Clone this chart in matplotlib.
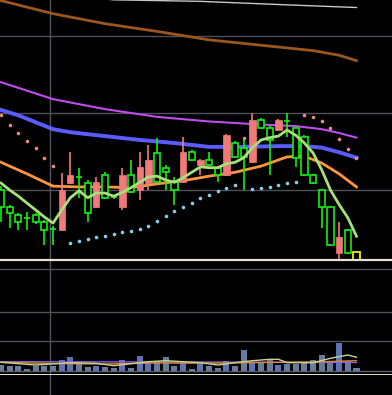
import matplotlib
matplotlib.use("Agg")
import matplotlib.pyplot as plt
from matplotlib.patches import Rectangle
from matplotlib.lines import Line2D

# ---------------- data ----------------
opens  = [10.00, 9.78, 9.68, 9.64, 9.68, 9.58, 9.51, 9.48, 10.09, 10.19,
          10.09, 9.78, 10.19, 9.92, 9.78, 10.19, 10.00, 10.09, 10.48, 10.29,
          10.10, 10.10, 10.49, 10.32, 10.39, 10.29, 10.19, 10.61, 10.55, 10.36,
          10.91, 10.81, 10.78, 10.90, 10.81, 10.69, 10.19, 10.00, 9.78, 9.18,
          9.48, 9.19]
highs  = [10.05, 9.81, 9.70, 9.71, 9.70, 9.61, 9.53, 10.22, 10.49, 10.29,
          10.13, 10.17, 10.23, 9.94, 10.29, 10.39, 10.49, 10.58, 10.68, 10.32,
          10.17, 10.69, 10.52, 10.40, 10.49, 10.31, 10.73, 10.64, 10.65, 11.00,
          10.94, 10.83, 10.92, 11.00, 10.82, 10.71, 10.21, 10.01, 9.79, 9.58,
          9.49, 9.19]
lows   = [9.58, 9.51, 9.48, 9.48, 9.56, 9.29, 9.29, 9.47, 10.08, 9.90,
          9.58, 9.77, 9.88, 9.88, 9.74, 9.96, 9.87, 10.00, 10.09, 10.00,
          9.81, 10.09, 10.38, 10.19, 10.31, 10.10, 10.18, 10.42, 10.00, 10.35,
          10.79, 10.19, 10.77, 10.69, 10.30, 10.18, 10.08, 9.51, 9.27, 9.09,
          9.17, 9.09]
closes = [9.78, 9.70, 9.58, 9.62, 9.58, 9.48, 9.48, 10.00, 10.19, 10.16,
          9.70, 10.10, 9.90, 9.90, 10.19, 9.97, 10.30, 10.39, 10.10, 10.23,
          10.00, 10.49, 10.39, 10.39, 10.32, 10.19, 10.71, 10.43, 10.43, 10.91,
          10.81, 10.65, 10.91, 10.88, 10.42, 10.19, 10.09, 9.78, 9.29, 9.39,
          9.18, 9.09]
volumes = [60, 53, 53, 20, 50, 50, 50, 110, 137, 93,
           43, 53, 43, 27, 110, 33, 150, 103, 93, 137,
           50, 93, 17, 70, 53, 33, 103, 50, 213, 83,
           83, 110, 60, 70, 67, 77, 110, 160, 103, 283,
           103, 27]

# moving averages (readings at candle indices)
ma_white_idx = [0, 7, 13, 23, 34, 41]
ma_white     = [12.62, 12.53, 12.47, 12.45, 12.40, 12.37]
ma_brown_idx = [0, 6, 12, 18, 24, 30, 36, 39, 41]
ma_brown     = [12.46, 12.29, 12.16, 12.06, 11.95, 11.88, 11.81, 11.75, 11.68]
ma_purple_idx = [0, 6, 12, 18, 24, 30, 34, 37, 39, 41]
ma_purple     = [11.40, 11.18, 11.05, 10.95, 10.89, 10.85, 10.83, 10.79, 10.74, 10.68]
ma_blue_idx = [0, 2, 4, 6, 8, 12, 16, 20, 24, 28, 32, 35, 37, 39, 41]
ma_blue     = [11.04, 10.97, 10.88, 10.79, 10.75, 10.70, 10.65, 10.61, 10.56,
               10.56, 10.57, 10.57, 10.55, 10.49, 10.42]
ma_orange_idx = [0, 3, 6, 9, 12, 15, 18, 21, 24, 27, 30, 33, 35, 37, 39, 41]
ma_orange     = [10.36, 10.21, 10.05, 10.04, 10.04, 10.03, 10.08, 10.12, 10.18,
                 10.23, 10.31, 10.43, 10.44, 10.35, 10.21, 10.04]
ma_green = [10.09, 10.00, 9.92, 9.83, 9.74, 9.65, 9.57, 9.74, 9.90, 9.99,
            9.90, 9.96, 9.96, 9.92, 9.97, 10.03, 10.10, 10.17, 10.18, 10.13,
            10.10, 10.16, 10.23, 10.30, 10.29, 10.29, 10.34, 10.36, 10.42, 10.55,
            10.65, 10.68, 10.70, 10.78, 10.71, 10.61, 10.48, 10.26, 10.00, 9.81,
            9.64, 9.40]

# SAR dots
sar_up_idx = [0, 1, 2, 3, 4, 5, 6, 28, 35, 36, 37, 38, 39, 40, 41]
sar_up     = [10.97, 10.84, 10.74, 10.64, 10.55, 10.42, 10.31, 10.68,
              10.97, 10.95, 10.90, 10.81, 10.66, 10.53, 10.42]
sar_dn_idx = list(range(8, 28)) + list(range(29, 35))
sar_dn     = [9.31, 9.34, 9.36, 9.39, 9.40, 9.43, 9.46, 9.47, 9.49, 9.53,
              9.60, 9.66, 9.73, 9.78, 9.83, 9.90, 9.94, 9.99, 10.03, 10.07,
              10.01, 10.03, 10.04, 10.07, 10.09, 10.10]

# volume moving averages
vma_a_idx = [0, 4, 8, 11, 13, 17, 19, 23, 25, 27, 29, 31, 32, 33, 36, 38, 40, 41]
vma_a     = [87, 60, 83, 77, 53, 93, 103, 83, 60, 83, 103, 117, 117, 83, 83, 127, 160, 137]
vma_b_idx = [0, 6, 12, 18, 24, 30, 36, 41]
vma_b     = [87, 75, 70, 80, 78, 85, 90, 103]
vma_c_idx = [0, 20, 41]
vma_c     = [93, 90, 85]

price_grid = [10, 11, 12]
vol_grid = [300, 590]

# ---------------- figure ----------------
W, H = 392, 395
fig = plt.figure(figsize=(W / 100, H / 100), dpi=100, facecolor="black")

def px_ax(top, bottom):
    return [0, (H - bottom) / H, 1, (bottom - top) / H]

ax = fig.add_axes(px_ax(0, 260))
axv = fig.add_axes(px_ax(268, 375))
for a in (ax, axv):
    a.set_facecolor("black")
    a.set_axis_off()

xl = (-1 / 8.67, 391 / 8.67)
ax.set_xlim(*xl)
axv.set_xlim(*xl)
ax.set_ylim(10 - 70 / 77, 10 + 190 / 77)
axv.set_ylim(-40, 1030)

grid_c = "#505058"
for g in price_grid:
    ax.axhline(g, color=grid_c, lw=1.0, zorder=0)
ax.axhline(10 - 70 / 77, color="#e6e0d2", lw=1.6, zorder=5, clip_on=False)

for g in vol_grid:
    axv.axhline(g, color=grid_c, lw=1.0, zorder=0)
axv.axhline(1025, color=grid_c, lw=1.0, zorder=0)
axv.axhline(0, color="#60606a", lw=1.0, zorder=0)
axv.axhline(-38, color="#e6e0d2", lw=1.4, zorder=5)

fig.add_artist(Line2D([50 / W, 50 / W], [0, 1], color="#555560", lw=1.0, zorder=0))

# lines
ax.plot(ma_white_idx, ma_white, color="#c8c8c8", lw=1.0, zorder=2)
ax.plot(ma_brown_idx, ma_brown, color="#9a561e", lw=2.0, zorder=2)
ax.plot(ma_purple_idx, ma_purple, color="#c04cf0", lw=1.5, zorder=2)
ax.plot(ma_blue_idx, ma_blue, color="#5a5cff", lw=2.8, zorder=2)
ax.plot(ma_orange_idx, ma_orange, color="#ff963c", lw=2.0, zorder=2)

# candles
bw = 0.72
green = "#14f014"
red = "#f07a7a"
for i, (o, h, l, c) in enumerate(zip(opens, highs, lows, closes)):
    top, bot = max(o, c), min(o, c)
    if i == len(opens) - 1:
        col = "#f0f000"
        ax.add_patch(Rectangle((i - bw / 2, bot), bw, max(top - bot, 0.005),
                               facecolor="none", edgecolor=col, lw=1.3, zorder=4))
        continue
    if c > o:
        ax.vlines(i, l, h, color=red, lw=1.2, zorder=3)
        ax.add_patch(Rectangle((i - bw / 2, bot), bw, max(top - bot, 0.005),
                               facecolor=red, edgecolor=red, lw=0.5, zorder=3))
    else:
        ax.vlines(i, top, h, color=green, lw=1.2, zorder=3)
        ax.vlines(i, l, bot, color=green, lw=1.2, zorder=3)
        if top - bot < 0.03:
            ax.hlines((top + bot) / 2, i - bw / 2, i + bw / 2, color=green, lw=1.2, zorder=3)
            ax.vlines(i, bot, top, color=green, lw=1.2, zorder=3)
        else:
            ax.add_patch(Rectangle((i - bw / 2, bot), bw, top - bot,
                                   facecolor="black", edgecolor=green, lw=1.2, zorder=3))

ax.plot(range(len(ma_green)), ma_green, color="#a6e07a", lw=2.0, zorder=4)

ax.plot(sar_up_idx, sar_up, ls="none", marker="o", ms=2.6, color="#e88a80", mew=0, zorder=4)
ax.plot(sar_dn_idx, sar_dn, ls="none", marker="o", ms=2.6, color="#86cce6", mew=0, zorder=4)

# volume
vcols = ["#5a74b4" if c > o else "#657c9c" for o, c in zip(opens, closes)]
axv.bar(range(len(volumes)), volumes, width=0.7, color=vcols, zorder=2)
axv.plot(vma_c_idx, vma_c, color="#8a5cf0", lw=1.0, zorder=3)
axv.plot(vma_b_idx, vma_b, color="#d88a3a", lw=1.0, zorder=3)
axv.plot(vma_a_idx, vma_a, color="#c8d48a", lw=1.0, zorder=3)

fig.savefig("out.png", dpi=100, facecolor="black")
